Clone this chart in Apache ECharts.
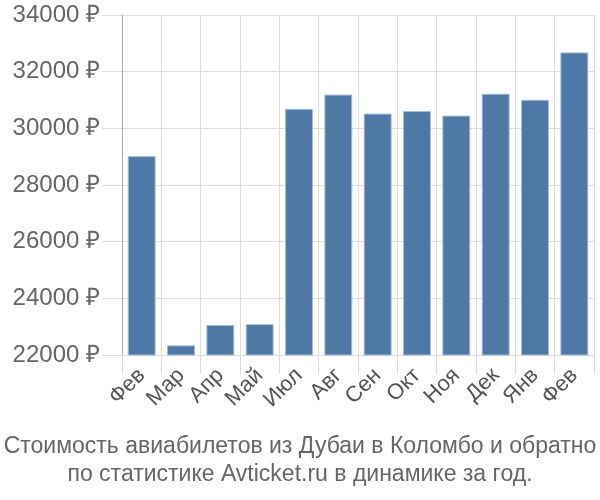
<!DOCTYPE html>
<html><head><meta charset="utf-8">
<script src="https://cdn.jsdelivr.net/npm/echarts@6/dist/echarts.min.js"></script>
<style>html,body{margin:0;padding:0;background:#fff}#c{width:600px;height:500px}</style>
</head><body><div id="c"></div>
<script>
const categories = ['Фев','Мар','Апр','Май','Июл','Авг','Сен','Окт','Ноя','Дек','Янв','Фев'];
const prices = [29020, 22340, 23060, 23090, 30690, 31190, 30520, 30610, 30450, 31220, 31010, 32680];
const titleLines = ['Стоимость авиабилетов из Дубаи в Коломбо и обратно', 'по статистике Avticket.ru в динамике за год.'];
const yMin = 22000, yMax = 34000, yStep = 2000;

const chart = echarts.init(document.getElementById('c'), null, {renderer:'canvas'});
chart.setOption({
  animation: false,
  title: {
    text: titleLines.join('\n'),
    left: 'center', top: 433, padding: 0,
    textStyle: {fontFamily:'Liberation Sans, Arial, sans-serif', fontSize: 23, fontWeight: 'normal', color:'#666', lineHeight: 28}
  },
  grid: {left: 122, right: 6, top: 15, bottom: 145, containLabel: false},
  xAxis: {
    type: 'category', data: categories, boundaryGap: true,
    axisLine: {show: true, lineStyle: {color: '#ddd', width: 1}},
    axisTick: {show: true, length: 19, alignWithLabel: false, lineStyle: {color:'#ddd'}},
    splitLine: {show: true, lineStyle: {color: '#ddd', width: 1}},
    axisLabel: {rotate: 45, fontSize: 22, color: '#555', fontFamily:'Liberation Sans, Arial, sans-serif', margin: 17, interval: 0}
  },
  yAxis: {
    type: 'value', min: yMin, max: yMax, interval: yStep,
    axisLine: {show: true, lineStyle: {color: '#aaa', width: 1}},
    axisTick: {show: true, length: 20, lineStyle: {color: '#ddd'}},
    splitLine: {show: true, lineStyle: {color: '#ddd', width: 1}},
    axisLabel: {fontSize: 24, color: '#666', margin: 22, fontFamily:'Liberation Sans, Arial, sans-serif',
      formatter: v => v + ' ₽'}
  },
  series: [{
    type: 'bar', data: prices, barCategoryGap: '29%',
    itemStyle: {color: '#4e79a7', borderColor: '#a9bdd6', borderWidth: 1}
  }]
});
</script></body></html>
